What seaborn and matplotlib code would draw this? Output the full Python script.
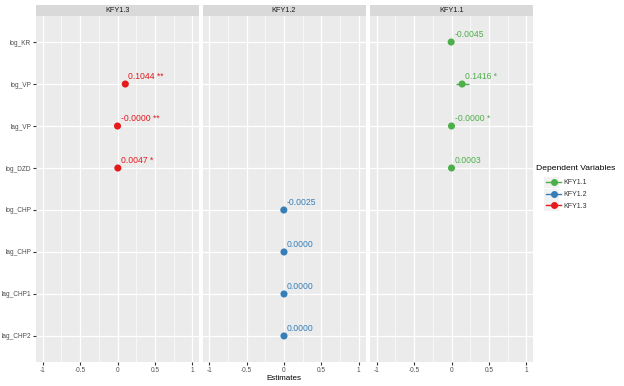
import numpy as np
import pandas as pd
import seaborn as sns
import matplotlib
matplotlib.use("Agg")
import matplotlib.pyplot as plt
from matplotlib.lines import Line2D

# data
predictors = ['log_KR', 'log_VP', 'lag_VP', 'log_DZD', 'log_CHP', 'lag_CHP', 'lag_CHP1', 'lag_CHP2']
models = ['KFY1.3', 'KFY1.2', 'KFY1.1']
legend_order = ['KFY1.1', 'KFY1.2', 'KFY1.3']
colors = {'KFY1.1': '#4DAF4A', 'KFY1.2': '#377EB8', 'KFY1.3': '#E41A1C'}

kfy13_terms = ['log_VP', 'lag_VP', 'log_DZD']
kfy13_est = [0.1044, -0.0000, 0.0047]
kfy13_lo = [0.085, -0.0001, 0.001]
kfy13_hi = [0.124, 0.0001, 0.008]
kfy13_lab = ['0.1044 **', '-0.0000 **', '0.0047 *']

kfy12_terms = ['log_CHP', 'lag_CHP', 'lag_CHP1', 'lag_CHP2']
kfy12_est = [-0.0025, 0.0000, 0.0000, 0.0000]
kfy12_lo = [-0.006, -0.0001, -0.0001, -0.0001]
kfy12_hi = [0.001, 0.0001, 0.0001, 0.0001]
kfy12_lab = ['-0.0025', '0.0000', '0.0000', '0.0000']

kfy11_terms = ['log_KR', 'log_VP', 'lag_VP', 'log_DZD']
kfy11_est = [-0.0045, 0.1416, -0.0000, 0.0003]
kfy11_lo = [-0.012, 0.063, -0.0001, -0.002]
kfy11_hi = [0.003, 0.233, 0.0001, 0.003]
kfy11_lab = ['-0.0045', '0.1416 *', '-0.0000 *', '0.0003']

rows = []
for m, terms, est, lo, hi, lab in [
    ('KFY1.3', kfy13_terms, kfy13_est, kfy13_lo, kfy13_hi, kfy13_lab),
    ('KFY1.2', kfy12_terms, kfy12_est, kfy12_lo, kfy12_hi, kfy12_lab),
    ('KFY1.1', kfy11_terms, kfy11_est, kfy11_lo, kfy11_hi, kfy11_lab),
]:
    for t, e, l, h, s in zip(terms, est, lo, hi, lab):
        rows.append(dict(model=m, term=t, est=e, lo=l, hi=h, label=s))
df = pd.DataFrame(rows)
df['ypos'] = df['term'].map({p: i for i, p in enumerate(predictors)})

plt.rcParams['font.family'] = ['Liberation Sans', 'DejaVu Sans']

W, H = 624, 386
fig = plt.figure(figsize=(W / 100, H / 100), dpi=100)

panel_left = [36, 202.5, 370]
panel_w = 163
top_px, bot_px = 16, 362
strip_h = 11

for k, m in enumerate(models):
    ax = fig.add_axes([panel_left[k] / W, 1 - bot_px / H, panel_w / W, (bot_px - top_px) / H])
    ax.set_facecolor('#EBEBEB')
    sub = df[df['model'] == m]
    ax.hlines(sub['ypos'], sub['lo'], sub['hi'], color=colors[m], lw=1.0, zorder=3)
    sns.scatterplot(data=sub, x='est', y='ypos', color=colors[m], s=26, edgecolor='none',
                    ax=ax, zorder=4, legend=False)
    for _, r in sub.iterrows():
        ax.annotate(r['label'], (r['est'], r['ypos']), xytext=(2.2, 2.2), textcoords='offset points',
                    color=colors[m], fontsize=6.2, ha='left', va='bottom', zorder=5)
    ax.set_xlim(-1.09, 1.09)
    ax.set_ylim(len(predictors) - 1 + 0.62, -0.62)
    ax.set_xticks([-1, -0.5, 0, 0.5, 1])
    ax.set_xticklabels(['-1', '-0.5', '0', '0.5', '1'])
    ax.set_xticks([-0.75, -0.25, 0.25, 0.75], minor=True)
    ax.set_yticks(range(len(predictors)))
    ax.set_yticklabels(predictors if k == 0 else [])
    ax.grid(True, which='major', color='white', lw=0.9)
    ax.grid(True, which='minor', axis='x', color='white', lw=0.45)
    ax.set_axisbelow(True)
    for sp in ax.spines.values():
        sp.set_visible(False)
    ax.tick_params(axis='both', which='major', length=2, color='#333333', labelsize=4.7,
                   labelcolor='#4D4D4D', pad=1.5)
    ax.tick_params(axis='y', length=2 if k == 0 else 0)
    ax.tick_params(which='minor', length=0)
    ax.set_xlabel('')
    ax.set_ylabel('')
    # strip
    fig.patches.append(plt.Rectangle((panel_left[k] / W, 1 - top_px / H), panel_w / W, strip_h / H,
                                     transform=fig.transFigure, facecolor='#D9D9D9',
                                     edgecolor='none', zorder=0))
    fig.text((panel_left[k] + panel_w / 2) / W, 1 - (top_px - strip_h / 2) / H, m,
             ha='center', va='center', fontsize=5.2, color='#1A1A1A')

fig.text((202.5 + panel_w / 2) / W, 1 - 378.5 / H, 'Estimates', ha='center', va='center',
         fontsize=5.8, color='black')

# legend: title as text, keys on grey boxes
fig.text(536 / W, 1 - 169 / H, 'Dependent Variables', ha='left', va='center',
         fontsize=6.1, color='black')
key_y = [183, 194.5, 206]
for m, yk in zip(legend_order, key_y):
    fig.patches.append(plt.Rectangle((544 / W, 1 - (yk + 5.5) / H), 15 / W, 11 / H,
                                     transform=fig.transFigure, facecolor='#F2F2F2',
                                     edgecolor='none', zorder=0))
handles = [Line2D([0], [0], color=colors[m], marker='o', markersize=4, lw=1) for m in legend_order]
leg = fig.legend(handles, legend_order, loc='center left',
                 bbox_to_anchor=(541 / W, 1 - 194.5 / H), frameon=False, fontsize=5,
                 handlelength=2.2, handletextpad=0.35, labelspacing=0.65, borderpad=0.2)
for t in leg.get_texts():
    t.set_color('#333333')

fig.savefig('out.png', dpi=100)
